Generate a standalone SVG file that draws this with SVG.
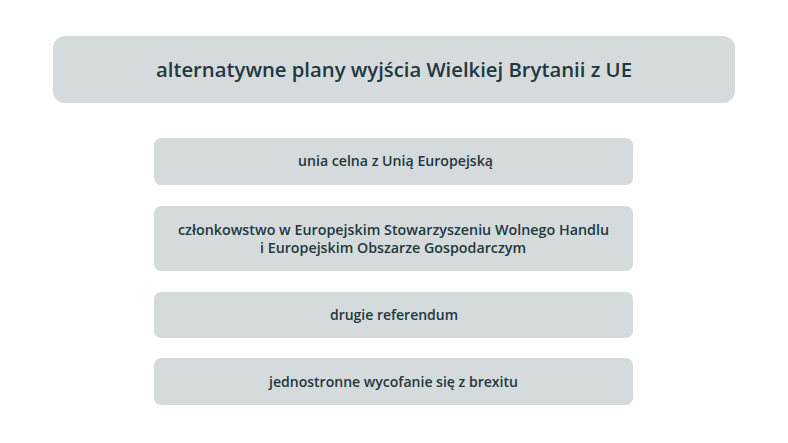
<svg xmlns="http://www.w3.org/2000/svg" width="788" height="443" viewBox="0 0 788 443">
<style>
.box{fill:#d5dadc}
.t{font-family:"Open Sans","Noto Sans","Liberation Sans",sans-serif;fill:#22383e;text-anchor:middle;font-weight:600}
.title{font-size:19.5px}
.lbl{font-size:14.5px}
</style>
<rect width="788" height="443" fill="#ffffff"/>
<g id="title">
<rect class="box" x="53" y="36" width="682" height="67" rx="12"/>
<text class="t title" x="394" y="77" textLength="476" lengthAdjust="spacingAndGlyphs">alternatywne plany wyjścia Wielkiej Brytanii z UE</text>
</g>
<g id="n1">
<rect class="box" x="154" y="138" width="479" height="47" rx="7"/>
<text class="t lbl" x="395.5" y="166" textLength="195" lengthAdjust="spacingAndGlyphs">unia celna z Unią Europejską</text>
</g>
<g id="n2">
<rect class="box" x="154" y="206" width="479" height="65" rx="7"/>
<text class="t lbl" x="393.5" y="235" textLength="431" lengthAdjust="spacingAndGlyphs">członkowstwo w Europejskim Stowarzyszeniu Wolnego Handlu</text>
<text class="t lbl" x="393" y="253" textLength="266" lengthAdjust="spacingAndGlyphs">i Europejskim Obszarze Gospodarczym</text>
</g>
<g id="n3">
<rect class="box" x="154" y="292" width="479" height="46" rx="7"/>
<text class="t lbl" x="394" y="320" textLength="128" lengthAdjust="spacingAndGlyphs">drugie referendum</text>
</g>
<g id="n4">
<rect class="box" x="154" y="358" width="479" height="47" rx="7"/>
<text class="t lbl" x="393.5" y="387" textLength="249" lengthAdjust="spacingAndGlyphs">jednostronne wycofanie się z brexitu</text>
</g>
<g id="connectors"></g>
</svg>
